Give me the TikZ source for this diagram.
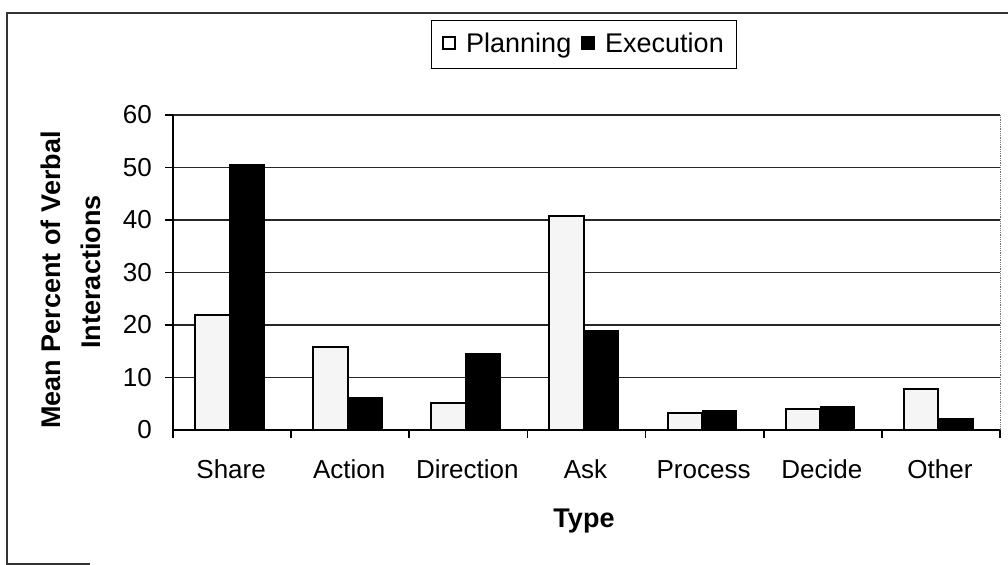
\documentclass[tikz,border=0pt]{standalone}
\usepackage{fontspec}
\setmainfont{Liberation Sans}
\begin{document}
\begin{tikzpicture}[x=1bp,y=-1bp,
  lbl/.style={font=\fontsize{26bp}{30bp}\selectfont, inner sep=0pt},
  leglbl/.style={font=\fontsize{27bp}{31bp}\selectfont, inner sep=0pt},
  ttl/.style={font=\fontsize{27bp}{31bp}\selectfont\bfseries, inner sep=0pt},
  gridline/.style={line width=1.2bp, black!85},
  axisline/.style={line width=1.6bp, black},
  planbar/.style={draw=black, line width=2bp, fill=black!4},
  execbar/.style={draw=black, line width=0.6bp, fill=black},
  frameline/.style={line width=1.2bp, black!80},
  legsq/.style={draw=black, line width=1.4bp, minimum size=12bp, inner sep=0pt}]
\useasboundingbox (0,0) rectangle (1008,565);
% outer chart frame (as scanned)
\draw[frameline] (1008,13) -- (7,13) -- (7,564) -- (90,564);
% legend
\node[draw=black, line width=1bp, minimum width=305bp, minimum height=48bp, inner sep=0pt] (legend) at (583.5,45) {};
\node[legsq, fill=white] (sqplan) at (449,43) {};
\node[leglbl, anchor=base west] (txtplan) at (466,53) {Planning};
\node[legsq, fill=black] (sqexec) at (588,43) {};
\node[leglbl, anchor=base west] (txtexec) at (605,53) {Execution};
% gridlines
\foreach \v in {10,20,30,40,50,60}{
  \draw[gridline] (173,{430-5.25*\v}) -- (1000,{430-5.25*\v});
  \draw[axisline] (165,{430-5.25*\v}) -- (173,{430-5.25*\v});
}
% right plot border
\draw[line width=0.8bp, black!55, densely dotted] (1000,115) -- (1000,430);
% bars
\foreach \i/\p/\e in {0/22.0/50.6, 1/15.9/6.3, 2/5.1/14.6, 3/40.8/18.9, 4/3.3/3.8, 5/4.0/4.5, 6/7.8/2.3}{
  \pgfmathsetmacro{\L}{173+118.14*\i}
  \draw[planbar] ({\L+22},430) rectangle ({\L+56.5},{430-5.25*\p});
  \draw[execbar] ({\L+56.5},430) rectangle ({\L+91},{430-5.25*\e});
}
% axes
\draw[axisline] (173,115) -- (173,430) -- (1000,430);
\foreach \i in {0,...,7}{
  \draw[axisline] ({173+118.14*\i},430) -- ({173+118.14*\i},438);
}
% y tick labels
\node[lbl, anchor=east] (y0) at (152,430) {0};
\node[lbl, anchor=east] (y10) at (152,377.5) {10};
\node[lbl, anchor=east] (y20) at (152,325) {20};
\node[lbl, anchor=east] (y30) at (152,272.5) {30};
\node[lbl, anchor=east] (y40) at (152,220) {40};
\node[lbl, anchor=east] (y50) at (152,167.5) {50};
\node[lbl, anchor=east] (y60) at (152,115) {60};
% category labels
\node[lbl, anchor=base] (cshare) at (231.1,478) {Share};
\node[lbl, anchor=base] (caction) at (349.2,478) {Action};
\node[lbl, anchor=base] (cdirection) at (467.3,478) {Direction};
\node[lbl, anchor=base] (cask) at (585.5,478) {Ask};
\node[lbl, anchor=base] (cprocess) at (703.6,478) {Process};
\node[lbl, anchor=base] (cdecide) at (821.8,478) {Decide};
\node[lbl, anchor=base] (cother) at (939.9,478) {Other};
% axis titles
\node[ttl, anchor=base] (xtitle) at (584,527) {Type};
\node[ttl, rotate=90, anchor=base] (ytitle1) at (60,280) {Mean Percent of Verbal};
\node[ttl, rotate=90, anchor=base] (ytitle2) at (100,272) {Interactions};
\end{tikzpicture}
\end{document}
